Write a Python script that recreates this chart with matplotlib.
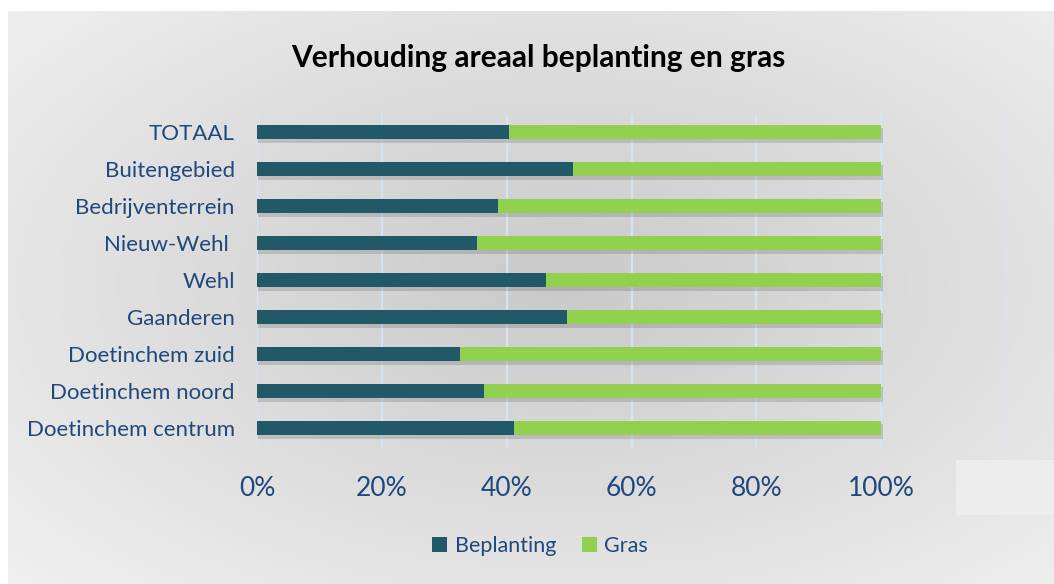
import numpy as np
import matplotlib.pyplot as plt
import matplotlib.patheffects as pe
from matplotlib.patches import Rectangle, Patch

plt.rcParams['font.family'] = ['Lato', 'DejaVu Sans']

# data (fraction of area), bottom to top
categories = ['Doetinchem centrum', 'Doetinchem noord', 'Doetinchem zuid', 'Gaanderen',
              'Wehl', 'Nieuw-Wehl ', 'Bedrijventerrein', 'Buitengebied', 'TOTAAL']
beplanting = [0.412, 0.363, 0.325, 0.496, 0.463, 0.352, 0.386, 0.506, 0.404]
gras = [1 - b for b in beplanting]

dark = '#215968'
green = '#92D050'
txt = '#1F497D'

W, H = 1054, 584
fig = plt.figure(figsize=(W / 100, H / 100), dpi=100)
fig.patch.set_facecolor('white')

# gradient background
bg = fig.add_axes([8 / W, 0, 1 - 8 / W, (H - 11) / H])
yy, xx = np.mgrid[0:200, 0:360]
d = np.sqrt(((xx - 190) / 260.0) ** 2 + ((yy - 95) / 150.0) ** 2)
g = 0.79 + 0.15 * np.clip(d, 0, 1)
bg.imshow(np.dstack([g, g, g]), aspect='auto', extent=[0, 1, 0, 1], interpolation='bilinear')
bg.axis('off')

ax = fig.add_axes([257 / W, (H - 446.5) / H, 749 / W, 333 / H])
ax.patch.set_alpha(0)
y = np.arange(len(categories))
shadow = [pe.SimplePatchShadow(offset=(1, -2.5), shadow_rgbFace='#555555', alpha=0.22), pe.Normal()]
b1 = ax.barh(y, beplanting, height=0.4, color=dark, zorder=3)
b2 = ax.barh(y, gras, left=beplanting, height=0.4, color=green, zorder=3)
for bar in list(b1) + list(b2):
    bar.set_path_effects(shadow)

ax.set_xlim(0, 1.2)
ax.set_ylim(-0.5, len(categories) - 0.5)
for xv in [0, 0.2, 0.4, 0.6, 0.8, 1.0, 1.2]:
    ax.axvline(xv, color='#D6E3F3', lw=1.6, zorder=1)
ax.set_xticks([0, 0.2, 0.4, 0.6, 0.8, 1.0])
ax.set_xticklabels(['0%', '20%', '40%', '60%', '80%', '100%'], fontsize=19, color=txt)
ax.set_yticks(y)
ax.set_yticklabels(categories, fontsize=16, color=txt)
ax.tick_params(length=0)
ax.tick_params(axis='y', pad=16)
ax.tick_params(axis='x', pad=21)
for s in ax.spines.values():
    s.set_visible(False)

fig.text(538 / W, 1 - 58 / H, 'Verhouding areaal beplanting en gras', ha='center', va='center',
         fontsize=21.5, fontweight='bold', color='black')

# light box over the right-hand tick area
fig.patches.append(Rectangle((956 / W, 1 - 515 / H), 98 / W, 55 / H, transform=fig.transFigure,
                             facecolor='#EDEDED', edgecolor='none', zorder=5))

handles = [Patch(facecolor=dark), Patch(facecolor=green)]
fig.legend(handles=handles, labels=['Beplanting', 'Gras'], loc='center', ncol=2,
           bbox_to_anchor=(540 / W, 1 - 546 / H), frameon=False, fontsize=15.5,
           labelcolor=txt, handlelength=0.7, handleheight=0.7, handletextpad=0.35, columnspacing=1.2)

fig.savefig('out.png', dpi=100)
